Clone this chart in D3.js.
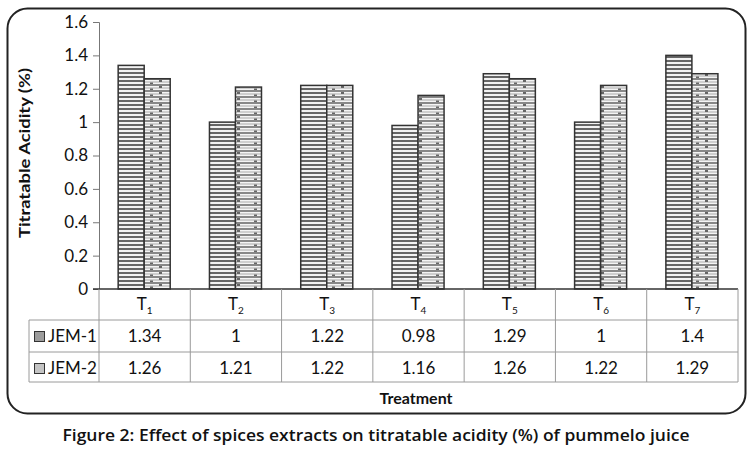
<!DOCTYPE html>
<html lang="en">
<head>
<meta charset="UTF-8">
<title>Titratable acidity</title>
<script src="https://d3js.org/d3.v7.min.js"></script>
<style>
  body { margin: 0; background: #fff; }
  text { font-family: Lato, "Open Sans", sans-serif; fill: #111; }
  .grid line { stroke: #9a9a9a; stroke-width: 1; }
</style>
</head>
<body>
<div id="chart"></div>
<script>
// data
const treatments = ["1", "2", "3", "4", "5", "6", "7"];
const seriesNames = ["JEM-1", "JEM-2"];
const jem1 = [1.34, 1, 1.22, 0.98, 1.29, 1, 1.4];
const jem2 = [1.26, 1.21, 1.22, 1.16, 1.26, 1.22, 1.29];
const yTicks = [0, 0.2, 0.4, 0.6, 0.8, 1, 1.2, 1.4, 1.6];

const W = 753, H = 459;
const plot = { left: 99, right: 738, top: 22, bottom: 289 };
const rowH = [31, 32, 30]; // header row, JEM-1, JEM-2

const svg = d3.select("#chart").append("svg")
  .attr("width", W).attr("height", H);

// patterns for bars
const defs = svg.append("defs");
const p1 = defs.append("pattern").attr("id", "pat1")
  .attr("patternUnits", "userSpaceOnUse").attr("width", 8).attr("height", 4);
p1.append("rect").attr("width", 8).attr("height", 4).attr("fill", "#f2f2f2");
p1.append("rect").attr("y", 0).attr("width", 8).attr("height", 2).attr("fill", "#666");

const p2 = defs.append("pattern").attr("id", "pat2")
  .attr("patternUnits", "userSpaceOnUse").attr("width", 26).attr("height", 6);
p2.append("rect").attr("width", 26).attr("height", 6).attr("fill", "#f4f4f4");
p2.append("rect").attr("y", 0).attr("width", 26).attr("height", 2).attr("fill", "#888");
p2.append("rect").attr("y", 3.5).attr("width", 26).attr("height", 1).attr("fill", "#aaa");
p2.append("rect").attr("x", 3).attr("y", 2).attr("width", 3).attr("height", 2).attr("fill", "#666");
p2.append("rect").attr("x", 20).attr("y", 4.5).attr("width", 3).attr("height", 1.5).attr("fill", "#666");

// outer frame
svg.append("rect")
  .attr("x", 7.5).attr("y", 8.5).attr("width", 738).attr("height", 405)
  .attr("rx", 20).attr("ry", 20)
  .attr("fill", "none").attr("stroke", "#222").attr("stroke-width", 2);

// scales
const x0 = d3.scaleBand().domain(treatments).range([plot.left, plot.right]);
const x1 = d3.scaleBand().domain(seriesNames)
  .range([x0.bandwidth() * 0.21, x0.bandwidth() * 0.78]);
const y = d3.scaleLinear().domain([0, 1.6]).range([plot.bottom, plot.top]);

// y axis
const yAxis = svg.append("g")
  .attr("transform", `translate(${plot.left},0)`)
  .call(d3.axisLeft(y).tickValues(yTicks).tickSize(6).tickPadding(5)
    .tickFormat(d => d3.format("")(+d.toFixed(1))));
yAxis.select(".domain").attr("stroke", "#777");
yAxis.selectAll(".tick line").attr("stroke", "#777");
yAxis.selectAll(".tick text")
  .style("font-size", "17px").style("font-family", "Lato, sans-serif").attr("fill", "#111");

// bars
const vals = [jem1, jem2];
const fills = ["url(#pat1)", "url(#pat2)"];
seriesNames.forEach((s, si) => {
  svg.append("g").selectAll("rect")
    .data(treatments.map((t, i) => ({ t, v: vals[si][i] })))
    .join("rect")
    .attr("x", d => x0(d.t) + x1(s))
    .attr("y", d => y(d.v))
    .attr("width", x1.bandwidth())
    .attr("height", d => y(0) - y(d.v))
    .attr("fill", fills[si])
    .attr("stroke", "#333").attr("stroke-width", 1.5);
});

// baseline
svg.append("line")
  .attr("x1", plot.left - 6).attr("x2", plot.right)
  .attr("y1", y(0)).attr("y2", y(0))
  .attr("stroke", "#333").attr("stroke-width", 1.5);

// data table
const t0 = plot.bottom;
const rowY = [t0, t0 + rowH[0], t0 + rowH[0] + rowH[1], t0 + rowH[0] + rowH[1] + rowH[2]];
const tableLeft = 29;
const grid = svg.append("g").attr("class", "grid");
// horizontal lines
[1, 2, 3].forEach(r => {
  grid.append("line").attr("x1", tableLeft).attr("x2", plot.right)
    .attr("y1", rowY[r]).attr("y2", rowY[r]);
});
// vertical lines
grid.append("line").attr("x1", tableLeft).attr("x2", tableLeft)
  .attr("y1", rowY[1]).attr("y2", rowY[3]);
grid.selectAll("line.v")
  .data(treatments.concat(["end"]))
  .join("line").attr("class", "v")
  .attr("x1", d => d === "end" ? plot.right : x0(d))
  .attr("x2", d => d === "end" ? plot.right : x0(d))
  .attr("y1", rowY[0]).attr("y2", rowY[3]);

// header labels T with subscript
const head = svg.append("g").selectAll("text")
  .data(treatments).join("text")
  .attr("x", d => x0(d) + x0.bandwidth() / 2)
  .attr("y", rowY[0] + 21)
  .attr("text-anchor", "middle")
  .style("font-size", "17px");
head.append("tspan").text("T");
head.append("tspan").attr("dy", 4).style("font-size", "10px").text(d => d);

// value rows
seriesNames.forEach((s, si) => {
  svg.append("g").selectAll("text")
    .data(treatments.map((t, i) => ({ t, v: vals[si][i] })))
    .join("text")
    .attr("x", d => x0(d.t) + x0.bandwidth() / 2)
    .attr("y", rowY[si + 1] + 22)
    .attr("text-anchor", "middle")
    .style("font-size", "17px")
    .text(d => d.v);
  svg.append("rect")
    .attr("x", 34.5).attr("y", rowY[si + 1] + 11.5)
    .attr("width", 10).attr("height", 10)
    .attr("fill", si === 0 ? "#9c9c9c" : "#c4c4c4")
    .attr("stroke", "#333").attr("stroke-width", 1);
  svg.append("text")
    .attr("x", 48).attr("y", rowY[si + 1] + 22)
    .style("font-size", "17px")
    .text(s);
});

// axis titles
svg.append("text")
  .attr("transform", "translate(30,153) rotate(-90)")
  .attr("text-anchor", "middle")
  .style("font-size", "16px").style("font-weight", "bold")
  .attr("textLength", 170).attr("lengthAdjust", "spacingAndGlyphs")
  .text("Titratable Acidity (%)");

svg.append("text")
  .attr("x", 416).attr("y", 404)
  .attr("text-anchor", "middle")
  .style("font-size", "16px").style("font-weight", "bold")
  .text("Treatment");

// caption
svg.append("text")
  .attr("x", 376).attr("y", 441)
  .attr("text-anchor", "middle")
  .style("font-size", "16px").style("font-weight", "600")
  .style("font-family", "'Open Sans', sans-serif")
  .attr("textLength", 627).attr("lengthAdjust", "spacingAndGlyphs")
  .text("Figure 2: Effect of spices extracts on titratable acidity (%) of pummelo juice");
</script>
</body>
</html>
